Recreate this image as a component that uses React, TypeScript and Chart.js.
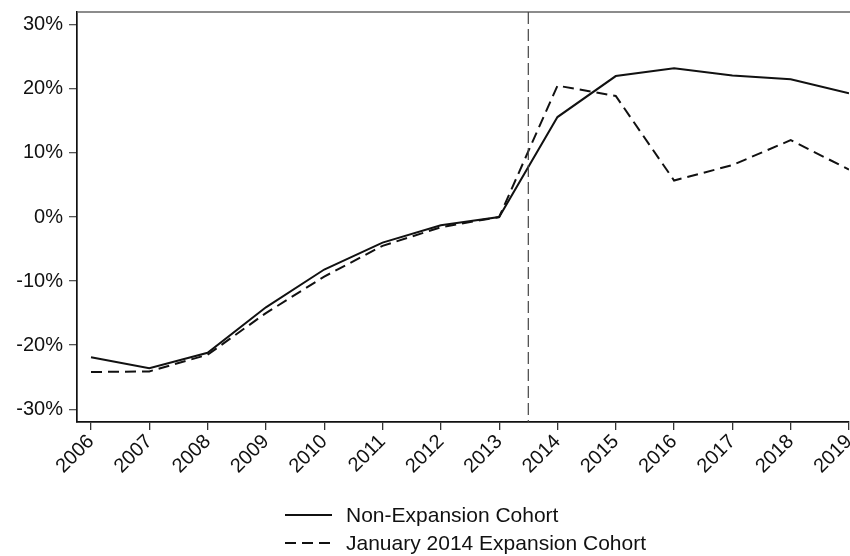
import React, { useEffect, useRef } from "react";
import { Chart, registerables } from "chart.js";

Chart.register(...registerables);

const years = [2006, 2007, 2008, 2009, 2010, 2011, 2012, 2013, 2014, 2015, 2016, 2017, 2018, 2019];
const nonExpansion = [-21.9, -23.6, -21.2, -14.1, -8.2, -4.0, -1.3, 0, 15.6, 22.0, 23.2, 22.1, 21.5, 19.3];
const expansion2014 = [-24.2, -24.1, -21.5, -15.0, -9.3, -4.5, -1.6, 0, 20.5, 18.9, 5.7, 8.1, 12.0, 7.4];
const yTicks = [-30, -20, -10, 0, 10, 20, 30];
const seriesLabels = ["Non-Expansion Cohort", "January 2014 Expansion Cohort"];
const eventLineYear = 2013.5;

const FONT = "'Liberation Sans', Arial, sans-serif";
const INK = "#111111";

const framePlugin = {
  id: "frameAndLegend",
  afterDatasetsDraw(chart: any) {
    const { ctx, chartArea, scales } = chart;
    ctx.save();
    ctx.strokeStyle = "#666666";
    ctx.lineWidth = 1.5;
    ctx.beginPath();
    ctx.moveTo(chartArea.left, chartArea.top);
    ctx.lineTo(chart.width, chartArea.top);
    ctx.stroke();
    const x = scales.x.getPixelForValue(eventLineYear);
    ctx.strokeStyle = "#444444";
    ctx.lineWidth = 1.2;
    ctx.setLineDash([12, 5]);
    ctx.beginPath();
    ctx.moveTo(x, chartArea.top);
    ctx.lineTo(x, chartArea.bottom);
    ctx.stroke();
    ctx.restore();
  },
  afterDraw(chart: any) {
    const { ctx } = chart;
    ctx.save();
    const startX = 285;
    const lineW = 47;
    const rows = [515, 543];
    chart.data.datasets.forEach((ds: any, i: number) => {
      const y = rows[i];
      ctx.strokeStyle = ds.borderColor;
      ctx.lineWidth = ds.borderWidth;
      ctx.setLineDash(ds.borderDash || []);
      ctx.beginPath();
      ctx.moveTo(startX, y);
      ctx.lineTo(startX + lineW, y);
      ctx.stroke();
      ctx.setLineDash([]);
      ctx.fillStyle = INK;
      ctx.font = `21px ${FONT}`;
      ctx.textBaseline = "middle";
      ctx.textAlign = "left";
      ctx.fillText(ds.label, 346, y + 1);
    });
    ctx.restore();
  },
};

export default function App() {
  const ref = useRef<HTMLCanvasElement | null>(null);

  useEffect(() => {
    if (!ref.current) return;
    const chart = new Chart(ref.current, {
      type: "line",
      data: {
        datasets: [
          {
            label: seriesLabels[0],
            data: years.map((yr, i) => ({ x: yr, y: nonExpansion[i] })),
            borderColor: INK,
            borderWidth: 2,
            pointRadius: 0,
            tension: 0,
            fill: false,
          },
          {
            label: seriesLabels[1],
            data: years.map((yr, i) => ({ x: yr, y: expansion2014[i] })),
            borderColor: INK,
            borderWidth: 2,
            borderDash: [11, 6],
            pointRadius: 0,
            tension: 0,
            fill: false,
          },
        ],
      },
      options: {
        animation: false,
        responsive: false,
        maintainAspectRatio: false,
        layout: { padding: { top: 12, right: 1, left: 0, bottom: 0 } },
        plugins: {
          legend: { display: false },
          tooltip: { enabled: false },
        },
        scales: {
          x: {
            type: "linear",
            min: 2005.76,
            max: 2019,
            afterBuildTicks: (scale: any) => {
              scale.ticks = years.map((v) => ({ value: v }));
            },
            afterFit: (scale: any) => {
              scale.height = 134;
              scale.paddingLeft = 0;
              scale.paddingRight = 0;
            },
            grid: {
              drawOnChartArea: false,
              drawTicks: true,
              tickLength: 8,
              color: "#333333",
              lineWidth: 1.3,
            },
            border: { display: true, color: INK, width: 1.7 },
            ticks: {
              autoSkip: false,
              minRotation: 45,
              maxRotation: 45,
              padding: 0,
              color: INK,
              font: { family: FONT, size: 20 },
              callback: (v: any) => String(v),
            },
          },
          y: {
            min: -32,
            max: 32,
            afterBuildTicks: (scale: any) => {
              scale.ticks = yTicks.map((v) => ({ value: v }));
            },
            afterFit: (scale: any) => {
              scale.width = 77;
              scale.paddingTop = 0;
              scale.paddingBottom = 0;
            },
            grid: {
              drawOnChartArea: false,
              drawTicks: true,
              tickLength: 8,
              color: "#555555",
              lineWidth: 1.3,
            },
            border: { display: true, color: INK, width: 1.7 },
            ticks: {
              padding: 6,
              color: INK,
              font: { family: FONT, size: 20 },
              callback: (v: any) => `${v}%`,
            },
          },
        },
      },
      plugins: [framePlugin],
    });
    return () => chart.destroy();
  }, []);

  return (
    <div style={{ position: "fixed", left: 0, top: 0, width: 850, height: 556, background: "#fff" }}>
      <canvas ref={ref} width={850} height={556} style={{ width: 850, height: 556, display: "block" }} />
    </div>
  );
}
